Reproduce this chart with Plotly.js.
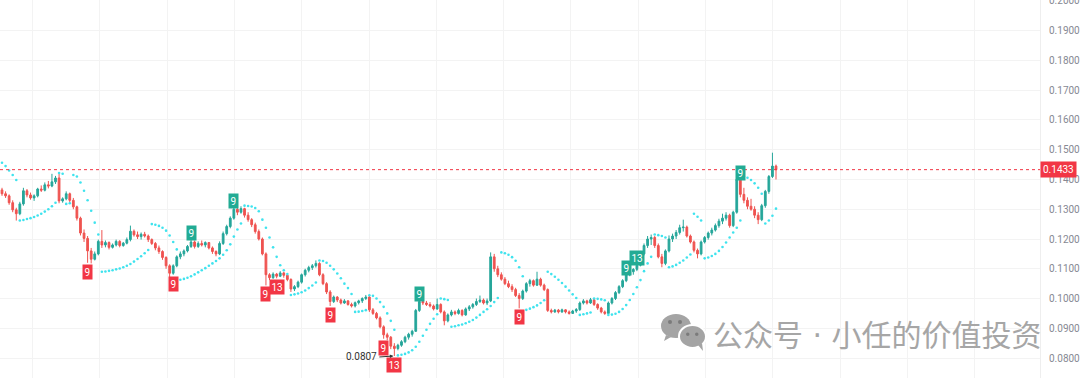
<!DOCTYPE html>
<html><head><meta charset="utf-8">
<script src="https://cdn.plot.ly/plotly-3.0.1.min.js"></script>
<style>html,body{margin:0;padding:0;background:#fff;}#chart{width:1080px;height:378px;}</style>
</head><body><div id="chart"></div>
<script>
const openP = [
.1365,.1352,.1345,.1322,.1298,.1285,.1318,.1362,.1348,.1338,
.1345,.1368,.1364,.1382,.1378,.1392,.1405,.1328,.1335,.1352,
.1330,.1308,.1270,.1220,.1202,.1160,.1132,.1150,.1192,.1180,
.1188,.1172,.1180,.1192,.1178,.1186,.1198,.1226,.1214,.1208,
.1216,.1210,.1198,.1185,.1170,.1158,.1138,.1110,.1085,.1110,
.1140,.1150,.1160,.1175,.1190,.1175,.1185,.1180,.1188,.1170,
.1158,.1150,.1185,.1218,.1242,.1270,.1300,.1290,.1302,.1280,
.1265,.1248,.1225,.1200,.1150,.1080,.1070,.1082,.1075,.1086,
.1078,.1064,.1032,.1040,.1055,.1080,.1095,.1104,.1110,.1118,
.1080,.1050,.1022,.0990,.1005,.0995,.0985,.0992,.0980,.0975,
.0986,.0992,.1000,.1005,.0962,.0950,.0935,.0905,.0878,.0870,
.0840,.0832,.0843,.0855,.0870,.0880,.0890,.0960,.0990,.0985,
.0980,.0975,.0965,.0980,.0955,.0925,.0945,.0955,.0950,.0960,
.0945,.0965,.0972,.0980,.0990,.0995,.0985,.0992,.1140,.1100,
.1080,.1065,.1050,.1040,.1030,.1010,.1000,.1025,.1050,.1060,
.1045,.1065,.1045,.1030,.0960,.0955,.0961,.0955,.0962,.0955,
.0950,.0958,.0963,.0985,.0992,.0985,.0996,.0980,.0968,.0955,
.0950,.0985,.1000,.1020,.1040,.1060,.1080,.1090,.1098,.1112,
.1150,.1178,.1200,.1205,.1178,.1140,.1118,.1160,.1200,.1210,
.1222,.1238,.1240,.1210,.1190,.1162,.1150,.1190,.1205,.1220,
.1230,.1245,.1260,.1270,.1280,.1245,.1290,.1400,.1350,.1330,
.1310,.1300,.1280,.1265,.1312,.1360,.1410,.1445];
const highP = [
.1372,.1360,.1350,.1330,.1305,.1325,.1372,.1368,.1356,.1350,
.1372,.1380,.1390,.1395,.1419,.1412,.1419,.1340,.1360,.1356,
.1338,.1312,.1275,.1232,.1210,.1170,.1158,.1198,.1230,.1195,
.1192,.1185,.1198,.1196,.1190,.1205,.1245,.1232,.1225,.1222,
.1224,.1215,.1202,.1190,.1178,.1162,.1142,.1115,.1115,.1145,
.1158,.1165,.1180,.1205,.1195,.1192,.1195,.1192,.1190,.1175,
.1162,.1192,.1225,.1248,.1276,.1312,.1308,.1310,.1305,.1290,
.1270,.1255,.1232,.1205,.1155,.1085,.1088,.1086,.1092,.1090,
.1080,.1068,.1045,.1060,.1084,.1100,.1110,.1116,.1128,.1122,
.1085,.1055,.1028,.1010,.1008,.1000,.0998,.0995,.0986,.0990,
.0996,.1004,.1012,.1008,.0968,.0955,.0940,.0910,.0885,.0874,
.0850,.0848,.0860,.0875,.0885,.0895,.0965,.1000,.0995,.0992,
.0988,.0980,.1000,.0984,.0960,.0950,.0962,.0960,.0966,.0964,
.0970,.0978,.0985,.1000,.1010,.1000,.1000,.1155,.1150,.1110,
.1088,.1072,.1060,.1048,.1036,.1018,.1030,.1055,.1066,.1064,
.1090,.1070,.1050,.1034,.0966,.0965,.0965,.0966,.0964,.0960,
.0962,.0968,.0990,.0998,.0996,.1002,.0998,.0984,.0972,.0960,
.0990,.1005,.1025,.1045,.1065,.1085,.1095,.1102,.1120,.1160,
.1185,.1210,.1215,.1210,.1185,.1150,.1165,.1212,.1218,.1230,
.1248,.1265,.1245,.1215,.1195,.1168,.1195,.1210,.1225,.1238,
.1252,.1268,.1285,.1290,.1285,.1295,.1410,.1405,.1372,.1340,
.1335,.1310,.1290,.1318,.1365,.1415,.1490,.1450];
const lowP = [
.1345,.1338,.1315,.1290,.1262,.1280,.1312,.1340,.1332,.1328,
.1340,.1358,.1360,.1370,.1374,.1385,.1320,.1322,.1330,.1322,
.1300,.1262,.1212,.1190,.1120,.1118,.1128,.1145,.1170,.1172,
.1165,.1168,.1175,.1172,.1174,.1182,.1192,.1208,.1200,.1198,
.1205,.1190,.1180,.1162,.1150,.1130,.1100,.1068,.1080,.1105,
.1132,.1142,.1155,.1170,.1168,.1170,.1175,.1172,.1165,.1150,
.1142,.1146,.1180,.1212,.1236,.1265,.1280,.1285,.1272,.1258,
.1240,.1218,.1195,.1145,.1044,.1062,.1066,.1068,.1072,.1070,
.1058,.1022,.1025,.1035,.1050,.1074,.1088,.1096,.1104,.1075,
.1045,.1015,.0975,.0985,.0988,.0980,.0982,.0976,.0970,.0970,
.0980,.0985,.0995,.0955,.0945,.0930,.0900,.0865,.0860,.0830,
.0807,.0826,.0838,.0850,.0862,.0872,.0888,.0955,.0978,.0975,
.0970,.0960,.0962,.0950,.0910,.0920,.0940,.0944,.0946,.0940,
.0942,.0958,.0966,.0975,.0985,.0980,.0978,.0988,.1090,.1072,
.1060,.1045,.1035,.1022,.1005,.0967,.0995,.1020,.1040,.1040,
.1042,.1040,.1025,.0955,.0950,.0952,.0950,.0952,.0950,.0946,
.0948,.0952,.0958,.0980,.0980,.0982,.0975,.0962,.0950,.0945,
.0948,.0980,.0995,.1015,.1035,.1055,.1075,.1080,.1092,.1108,
.1145,.1170,.1180,.1170,.1135,.1105,.1112,.1155,.1190,.1200,
.1215,.1225,.1205,.1185,.1155,.1135,.1145,.1185,.1198,.1212,
.1225,.1238,.1250,.1262,.1238,.1240,.1285,.1340,.1320,.1300,
.1295,.1270,.1250,.1260,.1305,.1352,.1405,.1400];
const closeP = [
.1352,.1345,.1322,.1298,.1285,.1318,.1362,.1348,.1338,.1345,
.1368,.1364,.1382,.1378,.1392,.1405,.1328,.1335,.1352,.1330,
.1308,.1270,.1220,.1202,.1160,.1132,.1150,.1192,.1180,.1188,
.1172,.1180,.1192,.1178,.1186,.1198,.1226,.1214,.1208,.1216,
.1210,.1198,.1185,.1170,.1158,.1138,.1110,.1085,.1110,.1140,
.1150,.1160,.1175,.1190,.1175,.1185,.1180,.1188,.1170,.1158,
.1150,.1185,.1218,.1242,.1270,.1300,.1290,.1302,.1280,.1265,
.1248,.1225,.1200,.1150,.1080,.1070,.1082,.1075,.1086,.1078,
.1064,.1032,.1040,.1055,.1080,.1095,.1104,.1110,.1118,.1080,
.1050,.1022,.0990,.1005,.0995,.0985,.0992,.0980,.0975,.0986,
.0992,.1000,.1005,.0962,.0950,.0935,.0905,.0878,.0870,.0840,
.0832,.0843,.0855,.0870,.0880,.0890,.0960,.0990,.0985,.0980,
.0975,.0965,.0980,.0955,.0925,.0945,.0955,.0950,.0960,.0945,
.0965,.0972,.0980,.0990,.0995,.0985,.0992,.1140,.1100,.1080,
.1065,.1050,.1040,.1030,.1010,.1000,.1025,.1050,.1060,.1045,
.1065,.1045,.1030,.0960,.0955,.0961,.0955,.0962,.0955,.0950,
.0958,.0963,.0985,.0992,.0985,.0996,.0980,.0968,.0955,.0950,
.0985,.1000,.1020,.1040,.1060,.1080,.1090,.1098,.1112,.1150,
.1178,.1200,.1205,.1178,.1140,.1118,.1160,.1200,.1210,.1222,
.1238,.1240,.1210,.1190,.1162,.1150,.1190,.1205,.1220,.1230,
.1245,.1260,.1270,.1280,.1245,.1290,.1400,.1350,.1330,.1310,
.1300,.1280,.1265,.1312,.1360,.1410,.1445,.1433];
// Parabolic SAR dots, one value per candle
const sarP = [
.1456,.1445,.1430,.1415,.1398,.1262,.1264,.1267,.1270,.1274,
.1279,.1285,.1292,.1300,.1310,.1322,.1422,.1419,.1318,.1320,
.1415,.1410,.1390,.1362,.1330,.1295,.1255,.1215,.1090,.1091,
.1093,.1095,.1098,.1101,.1105,.1110,.1116,.1124,.1133,.1142,
.1152,.1163,.1250,.1248,.1244,.1238,.1228,.1212,.1190,.1165,
.1063,.1066,.1070,.1075,.1081,.1088,.1095,.1102,.1110,.1118,
.1126,.1135,.1147,.1162,.1182,.1208,.1232,.1252,.1312,.1311,
.1309,.1304,.1293,.1265,.1238,.1205,.1172,.1140,.1112,.1095,
.1082,.1012,.1014,.1017,.1021,.1027,.1035,.1044,.1054,.1128,
.1126,.1120,.1110,.1098,.1084,.1068,.1050,.1035,.1015,.0955,
.0956,.0958,.0961,.1011,.1009,.1000,.0988,.0972,.0950,.0925,
.0895,.0809,.0811,.0814,.0819,.0826,.0838,.0855,.0875,.0895,
.0915,.0932,.0947,.1000,.0998,.0995,.0905,.0907,.0910,.0913,
.0917,.0922,.0928,.0936,.0945,.0955,.0964,.0975,.0988,.1002,
.1155,.1152,.1147,.1139,.1127,.1105,.1075,.0962,.0966,.0971,
.0977,.0985,.0994,.1090,.1082,.1073,.1063,.1052,.1040,.1027,
.1014,.1002,.0945,.0947,.0950,.0953,.1000,.0999,.0997,.0994,
.0945,.0946,.0949,.0955,.0965,.0978,.0995,.1015,.1038,.1062,
.1092,.1118,.1140,.1215,.1213,.1210,.1205,.1105,.1108,.1113,
.1120,.1128,.1138,.1148,.1285,.1275,.1262,.1135,.1138,.1143,
.1150,.1160,.1173,.1188,.1205,.1222,.1238,.1262,.1410,.1406,
.1398,.1387,.1372,.1352,.1252,.1262,.1278,.1302];
// TD sequential labels: candle index, text, side
const tdIndex = [24, 48, 53, 65, 74, 77, 92, 107, 110, 117, 145, 175, 178, 207];
const tdText  = ['9','9','9','9','9','13','9','9','13','9','9','9','13','9'];
const tdSide  = ['below','below','above','above','below','below','below','below','below','above','below','above','above','above'];
const lastPrice = 0.1433;
const lowestPrice = 0.0807;
const lowestIndex = 110;
const yTickVals = [0.08,0.09,0.10,0.11,0.12,0.13,0.14,0.15,0.16,0.17,0.18,0.19,0.20];
const watermarkA = '公众号';
const watermarkDot = ' · ';
const watermarkB = '小任的价值投资';

const N = closeP.length;
const idx = closeP.map((_, i) => i);
const W = 1040, H = 378;
const s = 774 / (N - 1);          // pixels per candle
const x0px = 2;                    // first candle centre in px
const xr = [-x0px / s, (W - x0px) / s];
const UP = '#26a69a', DN = '#ef5350';

const traces = [
  {type:'candlestick', x: idx, open: openP, high: highP, low: lowP, close: closeP,
   increasing:{line:{color:UP,width:1}, fillcolor:UP},
   decreasing:{line:{color:DN,width:1}, fillcolor:DN},
   whiskerwidth:0, hoverinfo:'skip', showlegend:false},
  {type:'scatter', mode:'markers', x: idx, y: sarP,
   marker:{color:'#3fe3ee', size:2.6}, hoverinfo:'skip', showlegend:false}
];

const px2p = (px) => px / W;
const py2p = (py) => 1 - py / H;
const ICON = '#a4a4a4', EYE = '#7b7b7b';
const shapes = [
  {type:'line', xref:'paper', yref:'y', x0:0, x1:1, y0:lastPrice, y1:lastPrice,
   line:{color:'#f23645', width:1, dash:'3px,3px'}},
  {type:'path', xref:'paper', yref:'paper', fillcolor:ICON, line:{width:0},
   path:`M ${px2p(666)} ${py2p(335)} L ${px2p(664)} ${py2p(341)} L ${px2p(671)} ${py2p(337)} Z`},
  {type:'circle', xref:'paper', yref:'paper', fillcolor:ICON, line:{width:0},
   x0:px2p(661), x1:px2p(691), y0:py2p(338), y1:py2p(314)},
  {type:'circle', xref:'paper', yref:'paper', fillcolor:ICON, line:{color:'#ffffff', width:2},
   x0:px2p(679), x1:px2p(706), y0:py2p(348), y1:py2p(325)},
  {type:'path', xref:'paper', yref:'paper', fillcolor:ICON, line:{width:0},
   path:`M ${px2p(698)} ${py2p(345)} L ${px2p(703)} ${py2p(351)} L ${px2p(702)} ${py2p(343)} Z`},
  {type:'circle', xref:'paper', yref:'paper', fillcolor:EYE, line:{width:0},
   x0:px2p(668), x1:px2p(672), y0:py2p(324), y1:py2p(320)},
  {type:'circle', xref:'paper', yref:'paper', fillcolor:EYE, line:{width:0},
   x0:px2p(678), x1:px2p(682), y0:py2p(324), y1:py2p(320)},
  {type:'circle', xref:'paper', yref:'paper', fillcolor:EYE, line:{width:0},
   x0:px2p(686), x1:px2p(689.5), y0:py2p(336), y1:py2p(332.5)},
  {type:'circle', xref:'paper', yref:'paper', fillcolor:EYE, line:{width:0},
   x0:px2p(695), x1:px2p(698.5), y0:py2p(336), y1:py2p(332.5)}
];

const annotations = [];
tdIndex.forEach((k, j) => {
  const above = tdSide[j] === 'above';
  annotations.push({
    x: k, y: above ? highP[k] : lowP[k], xref:'x', yref:'y',
    text: tdText[j], showarrow:false,
    yanchor:'middle', yshift: above ? 5 : -9,
    bgcolor: above ? '#22ab94' : '#f23645', borderpad:1.5,
    font:{family:'Roboto, Arial, sans-serif', size:10, color:'#ffffff'}
  });
});
annotations.push({
  x: lowestIndex, y: lowestPrice, xref:'x', yref:'y', text: lowestPrice.toFixed(4),
  showarrow:true, ax:-15, ay:1, xanchor:'right', arrowhead:2, arrowsize:0.7, arrowwidth:1,
  arrowcolor:'#333333', standoff:1,
  font:{family:'Roboto, Arial, sans-serif', size:10, color:'#333333'}
});
annotations.push({
  x:1, xref:'paper', y:lastPrice, yref:'y', xanchor:'left', yanchor:'middle',
  text: lastPrice.toFixed(4), showarrow:false, bgcolor:'#f23645', borderpad:2,
  font:{family:'Roboto, Arial, sans-serif', size:10, color:'#ffffff'}
});
annotations.push({
  x: px2p(711), xref:'paper', y: py2p(333), yref:'paper', xanchor:'left', yanchor:'middle',
  text: watermarkA + '<span style="font-family:DejaVu Sans">' + watermarkDot + '</span>' + watermarkB,
  showarrow:false,
  font:{family:'"Noto Sans CJK SC", sans-serif', size:30, color:'#a6a6a6'}
});

const layout = {
  width:1080, height:378, paper_bgcolor:'#ffffff', plot_bgcolor:'#ffffff',
  margin:{l:0, r:40, t:0, b:0, pad:0},
  showlegend:false,
  xaxis:{range:xr, rangeslider:{visible:false}, showticklabels:false, ticks:'',
         showgrid:true, gridcolor:'#f3f3f3', gridwidth:1,
         tick0:(32.5 - x0px)/s, dtick:67.3/s, zeroline:false, showline:false, fixedrange:true},
  yaxis:{side:'right', range:[0.0733, 0.2003], tickvals:yTickVals, tickformat:'.4f',
         showgrid:true, gridcolor:'#f3f3f3', zeroline:false, showline:true, linecolor:'#eeeeee',
         ticks:'', ticklabelstandoff:6, ticklabeloverflow:'allow',
         tickfont:{family:'Roboto, Arial, sans-serif', size:10, color:'#868993'}, fixedrange:true},
  shapes, annotations
};
Plotly.newPlot('chart', traces, layout, {displayModeBar:false, staticPlot:true});
</script></body></html>
